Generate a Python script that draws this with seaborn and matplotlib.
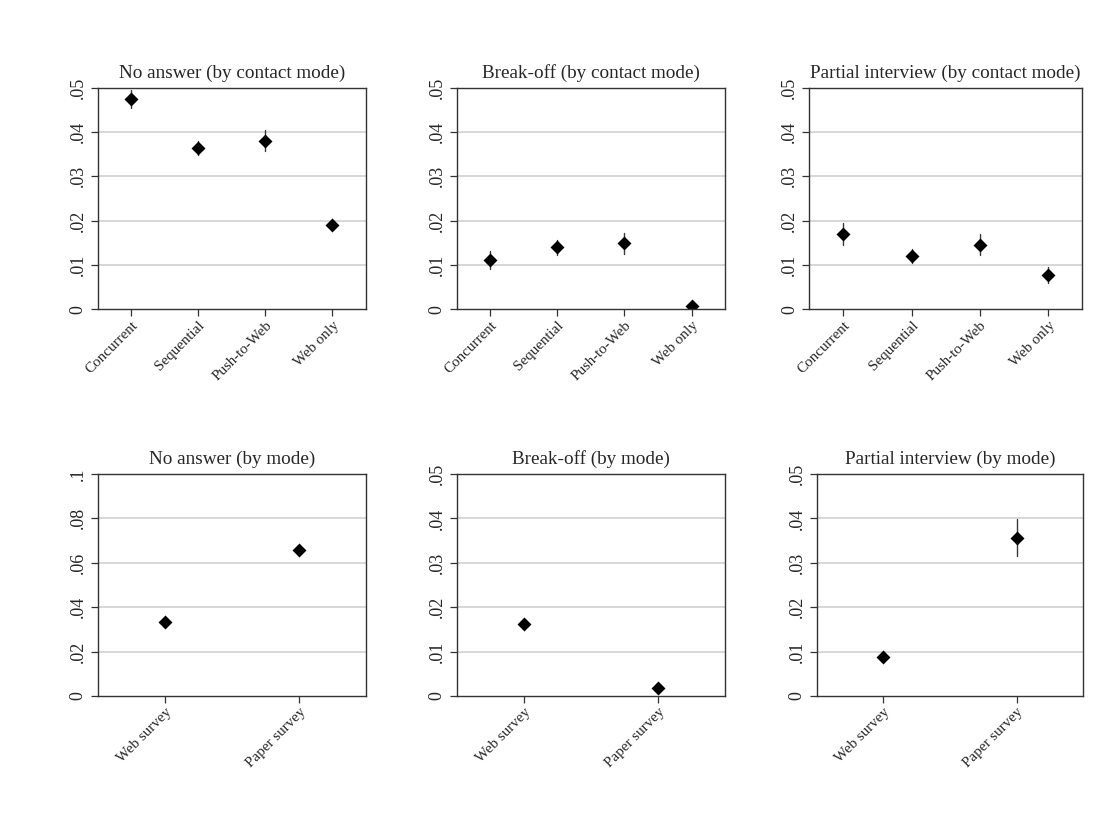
import numpy as np
import pandas as pd
import matplotlib
matplotlib.use("Agg")
import matplotlib.pyplot as plt
from matplotlib.ticker import FuncFormatter
import seaborn as sns

# Categories
contact_modes = ["Concurrent", "Sequential", "Push-to-Web", "Web only"]
survey_modes = ["Web survey", "Paper survey"]

# Estimates with lower / upper confidence bounds
no_answer_contact = [0.0474, 0.0363, 0.0380, 0.0190]
no_answer_contact_lo = [0.0454, 0.0348, 0.0357, 0.0185]
no_answer_contact_hi = [0.0494, 0.0380, 0.0405, 0.0195]

breakoff_contact = [0.0111, 0.0140, 0.0149, 0.0007]
breakoff_contact_lo = [0.0091, 0.0122, 0.0125, 0.0002]
breakoff_contact_hi = [0.0132, 0.0156, 0.0173, 0.0012]

partial_contact = [0.0171, 0.0120, 0.0146, 0.0077]
partial_contact_lo = [0.0146, 0.0105, 0.0122, 0.0059]
partial_contact_hi = [0.0195, 0.0135, 0.0170, 0.0096]

no_answer_mode = [0.0332, 0.0656]
no_answer_mode_lo = [0.0322, 0.0646]
no_answer_mode_hi = [0.0342, 0.0666]

breakoff_mode = [0.0162, 0.0019]
breakoff_mode_lo = [0.0155, 0.0015]
breakoff_mode_hi = [0.0170, 0.0023]

partial_mode = [0.0087, 0.0355]
partial_mode_lo = [0.0082, 0.0315]
partial_mode_hi = [0.0092, 0.0398]

titles = [
    "No answer (by contact mode)", "Break-off (by contact mode)",
    "Partial interview (by contact mode)",
    "No answer (by mode)", "Break-off (by mode)", "Partial interview (by mode)",
]

sns.set_theme(style="white")
plt.rcParams["font.family"] = ["Liberation Serif", "DejaVu Serif"]

fig = plt.figure(figsize=(11.07, 8.14), dpi=100)

# axes rectangles [left, bottom, width, height] in figure fractions
rects = [
    [0.0883, 0.620, 0.2421, 0.2723],
    [0.4126, 0.620, 0.2424, 0.2723],
    [0.7308, 0.620, 0.2470, 0.2723],
    [0.0885, 0.145, 0.2421, 0.2727],
    [0.4126, 0.145, 0.2424, 0.2727],
    [0.7378, 0.145, 0.2408, 0.2727],
]

panels = [
    (contact_modes, no_answer_contact, no_answer_contact_lo, no_answer_contact_hi, 0.05, 0.01),
    (contact_modes, breakoff_contact, breakoff_contact_lo, breakoff_contact_hi, 0.05, 0.01),
    (contact_modes, partial_contact, partial_contact_lo, partial_contact_hi, 0.05, 0.01),
    (survey_modes, no_answer_mode, no_answer_mode_lo, no_answer_mode_hi, 0.1, 0.02),
    (survey_modes, breakoff_mode, breakoff_mode_lo, breakoff_mode_hi, 0.05, 0.01),
    (survey_modes, partial_mode, partial_mode_lo, partial_mode_hi, 0.05, 0.01),
]


def stata_fmt(v, _pos):
    if abs(v) < 1e-12:
        return "0"
    s = f"{v:.2f}".rstrip("0")
    return s[1:] if s.startswith("0") else s


for rect, title, (cats, est, lo, hi, ymax, step) in zip(rects, titles, panels):
    ax = fig.add_axes(rect)
    # long format: lower bound, estimate and upper bound per category;
    # the median is the estimate and the full range is the interval
    df = pd.DataFrame({
        "cat": np.repeat(cats, 3),
        "val": np.ravel(np.column_stack([lo, est, hi])),
    })
    sns.pointplot(
        data=df, x="cat", y="val", order=cats, ax=ax,
        estimator="median", errorbar=("pi", 100),
        linestyle="none", marker="D", markersize=5,
        color="black",
        err_kws={"linewidth": 1.0, "color": "#3a3a3a", "zorder": 1.8},
    )
    ax.set_xlim(-0.5, len(cats) - 0.5)
    ax.set_ylim(0, ymax)
    ticks = np.round(np.arange(0, ymax + step / 2, step), 4)
    ax.set_yticks(ticks)
    ax.yaxis.set_major_formatter(FuncFormatter(stata_fmt))
    for t in ticks[1:-1]:
        ax.axhline(t, color="#d4d4d4", linewidth=1.3, zorder=0)
    ax.grid(False)
    ax.set_xlabel("")
    ax.set_ylabel("")
    ax.set_title(title, fontsize=13.8, pad=7)
    ax.tick_params(axis="y", direction="out", length=5, width=0.9,
                   color="#333333", labelsize=13, left=True, pad=3)
    ax.tick_params(axis="x", direction="out", length=5, width=0.9,
                   color="#333333", labelsize=10.8, bottom=True, pad=2)
    for lab in ax.get_yticklabels():
        lab.set_rotation(90)
        lab.set_va("center")
    for lab in ax.get_xticklabels():
        lab.set_rotation(45)
        lab.set_ha("right")
        lab.set_rotation_mode("anchor")
    for sp in ax.spines.values():
        sp.set_color("#333333")
        sp.set_linewidth(1.0)

fig.savefig("out.png", dpi=100, facecolor="white")
